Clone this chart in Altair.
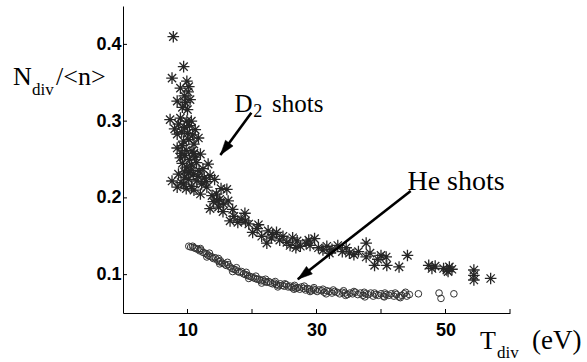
import altair as alt
import pandas as pd

# ---------------- data ----------------
d2_x = [7.8,
        9.4, 7.6, 9.9, 10.2, 8.9, 10.1, 9.5, 8.4, 9.7, 10.4, 9.2, 10.0,
        7.3, 8.9, 9.9, 8.6, 9.5, 10.3, 11.2, 11.7, 8.4, 9.1, 10.0, 10.8,
        9.4, 10.2, 11.0, 8.4, 9.2, 9.8, 10.7, 12.0, 8.9, 9.6, 10.3, 11.2,
        9.2, 9.9, 10.6, 11.4, 13.2, 12.4, 8.6, 9.5, 10.2, 10.9, 11.8, 13.5,
        12.6, 7.6, 9.4, 10.2, 11.45, 8.4, 9.0, 10.6, 12.2, 13.0, 14.2, 16.1,
        14.5, 15.2, 13.5, 14.0, 14.8, 15.5, 16.3, 15.0,
        16.6, 17.8, 18.9, 17.2, 18.3, 19.5, 20.1, 20.8, 21.5, 22.3, 22.5,
        23.2, 23.8, 24.3, 24.8, 25.4, 25.9, 26.3, 27.0, 27.5, 28.4, 29.0,
        29.7, 30.3, 31.0, 31.6, 32.4, 33.3, 34.0, 35.1, 34.6, 35.8, 37.7,
        37.7, 38.3, 39.0, 40.0, 40.8, 40.9, 42.8, 44.1, 47.4, 47.9, 48.4,
        49.7, 50.2, 50.6, 50.4, 51.0, 54.4, 54.4, 54.4, 57.0,
        10.5, 11.6, 12.9, 11.0, 12.0, 9.8, 13.8, 14.6, 15.6, 17.0, 19.0,
        21.0, 23.0, 26.8, 28.8, 32.0, 36.5, 39.5, 9.0, 8.0, 10.6, 11.0, 9.6]
d2_y = [0.410,
        0.371, 0.356, 0.352, 0.345, 0.343, 0.338, 0.333, 0.326, 0.324, 0.328, 0.318, 0.315,
        0.302, 0.304, 0.300, 0.296, 0.292, 0.294, 0.289, 0.278, 0.283, 0.286, 0.284, 0.282,
        0.274, 0.276, 0.270, 0.265, 0.268, 0.262, 0.261, 0.257, 0.252, 0.255, 0.250, 0.253,
        0.245, 0.240, 0.243, 0.246, 0.244, 0.238, 0.231, 0.234, 0.233, 0.231, 0.235, 0.229,
        0.226, 0.222, 0.218, 0.224, 0.222, 0.214, 0.220, 0.215, 0.218, 0.214, 0.224, 0.211,
        0.205, 0.212, 0.186, 0.195, 0.188, 0.182, 0.196, 0.198,
        0.170, 0.168, 0.180, 0.176, 0.172, 0.166, 0.155, 0.160, 0.150, 0.141, 0.157,
        0.152, 0.155, 0.145, 0.150, 0.142, 0.138, 0.148, 0.144, 0.137, 0.141, 0.138,
        0.147, 0.135, 0.132, 0.137, 0.133, 0.138, 0.130, 0.128, 0.135, 0.126, 0.141,
        0.123, 0.128, 0.112, 0.125, 0.123, 0.112, 0.110, 0.125, 0.112, 0.108, 0.111,
        0.108, 0.106, 0.110, 0.104, 0.107, 0.106, 0.099, 0.093, 0.095,
        0.236, 0.228, 0.221, 0.210, 0.205, 0.212, 0.203, 0.196, 0.192, 0.185, 0.170,
        0.165, 0.148, 0.135, 0.145, 0.128, 0.130, 0.120, 0.258, 0.290, 0.300, 0.258, 0.227]

he_x = [10.2, 10.5, 10.8, 11.0, 11.3, 11.6, 11.9, 12.1, 12.4, 12.7, 13.0, 13.2,
        13.5, 13.8, 14.0, 14.3, 14.6, 14.9, 15.1, 15.4, 15.7, 16.0, 16.3, 16.6,
        16.9, 17.2, 17.5, 17.8, 18.1, 18.4, 18.7, 19.0, 19.3, 19.6, 19.9, 20.2,
        20.5, 20.8, 21.1, 21.4, 21.7, 22.0, 22.3, 22.6, 22.9, 23.2, 23.5, 23.8,
        24.1, 24.4, 24.7, 25.0, 25.3, 25.6, 25.9, 26.2, 26.5, 26.8, 27.1, 27.4,
        27.7, 28.0, 28.3, 28.6, 28.9, 29.2, 29.5, 29.8, 30.1, 30.4, 30.8, 31.2,
        31.6, 32.0, 32.4, 32.8, 33.2, 33.6, 34.0, 34.4, 34.8, 35.2, 35.6, 36.0,
        36.4, 36.8, 37.2, 37.6, 38.0, 38.4, 38.8, 39.2, 39.6, 40.0, 40.4, 40.8,
        41.2, 41.6, 42.0, 42.4, 42.8, 43.2, 43.6, 44.0, 44.4, 45.8, 49.0, 49.3, 51.3,
        12.0, 13.4, 14.8, 16.2, 17.6, 19.1, 20.6, 22.1, 23.6, 25.1, 26.6, 28.1,
        29.6, 31.0, 32.6, 34.2, 35.8, 37.4, 39.0, 40.6, 42.2, 43.8,
        13.0, 15.0, 17.0, 19.5, 21.5, 24.0, 26.5, 29.0, 31.5, 34.5, 37.5, 40.5, 43.0]
he_y = [0.137, 0.136, 0.137, 0.135, 0.134, 0.133, 0.131, 0.132, 0.129, 0.128, 0.127, 0.125,
        0.124, 0.123, 0.121, 0.122, 0.119, 0.117, 0.118, 0.115, 0.114, 0.112, 0.113, 0.110,
        0.108, 0.107, 0.106, 0.104, 0.103, 0.104, 0.101, 0.100, 0.099, 0.098, 0.097, 0.096,
        0.095, 0.094, 0.094, 0.092, 0.093, 0.091, 0.090, 0.091, 0.089, 0.088, 0.089, 0.087,
        0.086, 0.088, 0.086, 0.085, 0.087, 0.084, 0.085, 0.083, 0.084, 0.082, 0.083, 0.081,
        0.084, 0.082, 0.080, 0.082, 0.081, 0.079, 0.081, 0.080, 0.078, 0.080, 0.079, 0.077,
        0.079, 0.078, 0.076, 0.078, 0.077, 0.075, 0.077, 0.076, 0.074, 0.076, 0.075, 0.077,
        0.074, 0.076, 0.073, 0.075, 0.074, 0.076, 0.072, 0.074, 0.073, 0.075, 0.072, 0.074,
        0.073, 0.075, 0.072, 0.074, 0.071, 0.073, 0.075, 0.072, 0.074, 0.075, 0.076, 0.069, 0.075,
        0.134, 0.128, 0.121, 0.116, 0.109, 0.103, 0.098, 0.094, 0.091, 0.088, 0.086, 0.085,
        0.083, 0.081, 0.080, 0.079, 0.078, 0.077, 0.076, 0.076, 0.076, 0.077,
        0.123, 0.114, 0.104, 0.095, 0.089, 0.084, 0.081, 0.078, 0.075, 0.073, 0.071, 0.071, 0.070]

x_tick_values = [10, 20, 30, 40, 50, 60]
x_label_values = [10, 30, 50]
y_tick_values = [0.1, 0.2, 0.3, 0.4]

# annotation arrows (data coordinates): start -> tip, head rotation in degrees
arrow_x1 = [19.9, 44.6]
arrow_y1 = [0.311, 0.209]
arrow_x2 = [15.1, 27.1]
arrow_y2 = [0.256, 0.094]
arrow_angle = [217, 232]

# annotation texts (data coordinates, left/baseline anchored)
anno_text = ["D", "2", "shots", "He shots"]
anno_x = [17.3, 20.2, 23.1, 44.1]
anno_y = [0.3115, 0.3055, 0.3115, 0.2100]
anno_size = [25, 18, 25, 28]

# axis title pieces (pixel offsets from the plot's top-left corner)
title_text = ["N", "div", "/<n>", "T", "div", "(eV)"]
title_px = [-110, -91, -67, 357, 374, 409]
title_py = [79, 89, 79, 343, 352, 343]
title_size = [26, 17, 26, 26, 17, 27]

# ---------------- chart ----------------
W, H = 387, 307
xs = alt.Scale(domain=[0, 60], nice=False, zero=False)
ys = alt.Scale(domain=[0.05, 0.45], nice=False, zero=False)

ax_x = alt.Axis(values=x_label_values, format="d", ticks=False, grid=False,
                domainColor="black", domainWidth=1, labelColor="black",
                labelFont="Liberation Sans", labelFontWeight="bold",
                labelFontSize=18, labelPadding=8, title=None)
ax_y = alt.Axis(values=y_tick_values, format=".1f", ticks=False, grid=False,
                domainColor="black", domainWidth=1, labelColor="black",
                labelFont="Liberation Sans", labelFontWeight="bold",
                labelFontSize=18, labelPadding=2, title=None)

STAR = "M-1,0L1,0M0,-1L0,1M-0.71,-0.71L0.71,0.71M-0.71,0.71L0.71,-0.71"
HEAD = "M0,0L0.55,1.7L-0.55,1.7Z"

d2 = pd.DataFrame({"x": d2_x, "y": d2_y})
he = pd.DataFrame({"x": he_x, "y": he_y})

d2_layer = alt.Chart(d2).mark_point(
    shape=STAR, size=135, filled=False, stroke="#262626", strokeWidth=1.3, opacity=1
).encode(x=alt.X("x:Q", scale=xs, axis=ax_x), y=alt.Y("y:Q", scale=ys, axis=ax_y))

he_layer = alt.Chart(he).mark_point(
    shape="circle", size=44, filled=False, stroke="#333333", strokeWidth=1.0, opacity=1
).encode(x=alt.X("x:Q", scale=xs, axis=ax_x), y=alt.Y("y:Q", scale=ys, axis=ax_y))

xt_layer = alt.Chart(pd.DataFrame({"t": x_tick_values})).mark_rule(
    color="black", strokeWidth=1
).encode(x=alt.X("t:Q", scale=xs, axis=ax_x), y=alt.value(H), y2=alt.value(H - 4))

yt_layer = alt.Chart(pd.DataFrame({"t": y_tick_values})).mark_rule(
    color="black", strokeWidth=1
).encode(y=alt.Y("t:Q", scale=ys, axis=ax_y), x=alt.value(0), x2=alt.value(4))

arrows = pd.DataFrame({"x1": arrow_x1, "y1": arrow_y1, "x2": arrow_x2,
                       "y2": arrow_y2, "ang": arrow_angle})
arrow_lines = alt.Chart(arrows).mark_rule(color="black", strokeWidth=2.6).encode(
    x=alt.X("x1:Q", scale=xs, axis=ax_x), y=alt.Y("y1:Q", scale=ys, axis=ax_y),
    x2="x2:Q", y2="y2:Q")
arrow_heads = alt.Chart(arrows).mark_point(
    shape=HEAD, size=300, filled=True, fill="black", stroke="black",
    strokeWidth=0.5, opacity=1
).encode(x=alt.X("x2:Q", scale=xs, axis=ax_x), y=alt.Y("y2:Q", scale=ys, axis=ax_y),
         angle=alt.Angle("ang:Q", scale=None))

anno = pd.DataFrame({"x": anno_x, "y": anno_y, "t": anno_text, "s": anno_size})
anno_layer = alt.Chart(anno).mark_text(
    align="left", baseline="alphabetic", font="Liberation Serif", color="black"
).encode(x=alt.X("x:Q", scale=xs, axis=ax_x), y=alt.Y("y:Q", scale=ys, axis=ax_y),
         text="t:N", size=alt.Size("s:Q", scale=None))

titles = pd.DataFrame({"px": title_px, "py": title_py, "t": title_text, "s": title_size})
title_layer = alt.Chart(titles).mark_text(
    align="left", baseline="alphabetic", font="Liberation Serif", color="black"
).encode(x=alt.X("px:Q", scale=None), y=alt.Y("py:Q", scale=None),
         text="t:N", size=alt.Size("s:Q", scale=None))

chart = alt.layer(
    he_layer, d2_layer, xt_layer, yt_layer, arrow_lines, arrow_heads,
    anno_layer, title_layer
).properties(
    width=W, height=H,
    autosize=alt.AutoSizeParams(type="none"),
    padding={"left": 123, "top": 6, "right": 77, "bottom": 49},
    background="white",
).configure_view(stroke=None)

chart.save("out.html", embed_options={"renderer": "svg", "actions": False})
